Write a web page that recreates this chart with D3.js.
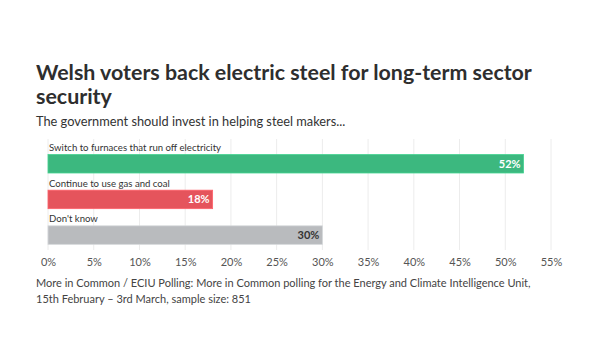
<!DOCTYPE html>
<html><head><meta charset="utf-8">
<script src="https://cdn.jsdelivr.net/npm/d3@7"></script>
<style>body{margin:0;background:#fff}svg{display:block}text{font-family:Lato,sans-serif}</style>
</head><body><svg id="c" width="600" height="360"></svg>
<script>
const categories = ["Switch to furnaces that run off electricity","Continue to use gas and coal","Don't know"];
const values = [52, 18, 30];
const colors = ["#3cb87f","#e5545c","#b9bbbe"];
const labelColors = ["#ffffff","#ffffff","#333333"];
const ticks = [0,5,10,15,20,25,30,35,40,45,50,55];
const titleLines = ["Welsh voters back electric steel for long-term sector","security"];
const subtitle = "The government should invest in helping steel makers...";
const footer = ["More in Common / ECIU Polling: More in Common polling for the Energy and Climate Intelligence Unit,","15th February – 3rd March, sample size: 851"];

const svg = d3.select("#c");
const x = d3.scaleLinear().domain([0,55]).range([48,551]);
const y = d3.scaleBand().domain(categories).range([141,248]).paddingInner(0);
const barH = 18.5;

svg.selectAll("text.title").data(titleLines).join("text").attr("class","title")
  .attr("x",36).attr("y",(d,i)=>80+i*24).attr("font-size",21.4).attr("font-weight",700)
  .attr("fill","#2e2e2e").text(d=>d);
svg.append("text").attr("x",36).attr("y",126).attr("font-size",12.8).attr("fill","#333").text(subtitle);

// gridlines
svg.append("g").selectAll("line").data(ticks).join("line")
  .attr("x1",d=>x(d)).attr("x2",d=>x(d)).attr("y1",139).attr("y2",250)
  .attr("stroke","#ececec").attr("stroke-width",1);

const g = svg.append("g").selectAll("g").data(categories).join("g");
g.append("text").attr("x",x(0)+1).attr("y",d=>y(d)+10).attr("font-size",9.6)
  .attr("fill","#333").text(d=>d);
g.append("rect").attr("x",x(0)).attr("y",d=>y(d)+13.5).attr("height",barH)
  .attr("width",(d,i)=>x(values[i])-x(0)).attr("fill",(d,i)=>colors[i])
  .attr("stroke",(d,i)=>d3.color(colors[i]).brighter(0.4)).attr("stroke-width",0.8);
g.append("text").attr("x",(d,i)=>x(values[i])-3).attr("y",d=>y(d)+13.5+barH/2+3.8)
  .attr("text-anchor","end").attr("font-size",11).attr("font-weight",700)
  .attr("fill",(d,i)=>labelColors[i]).text((d,i)=>values[i]+"%");

const ax = svg.append("g").attr("transform","translate(0,252)")
  .call(d3.axisBottom(x).tickValues(ticks).tickFormat(d=>d+"%").tickSize(0).tickPadding(6));
ax.select(".domain").remove();
ax.selectAll("text").attr("font-size",11).attr("fill","#555").attr("font-family","Lato,sans-serif");

svg.selectAll("text.foot").data(footer).join("text").attr("class","foot")
  .attr("x",36).attr("y",(d,i)=>287+i*16).attr("font-size",11).attr("fill","#444").text(d=>d);
</script></body></html>
